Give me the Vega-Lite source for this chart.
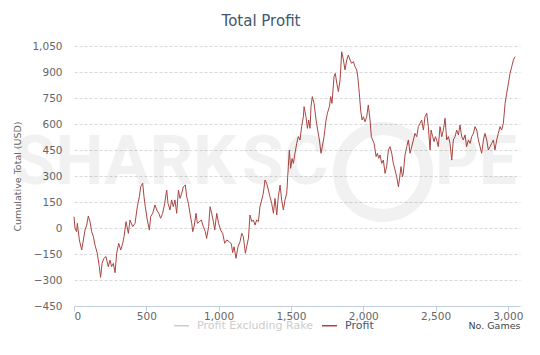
{
  "$schema": "https://vega.github.io/schema/vega-lite/v6.json",
  "width": 446,
  "height": 260,
  "autosize": {"type": "none"},
  "padding": {"left": 74, "top": 46, "right": 20, "bottom": 49},
  "background": "white",
  "title": {"text": "Total Profit", "font": "DejaVu Sans", "fontSize": 15, "fontWeight": "normal", "color": "#3E576F", "dx": -36, "offset": -3, "baseline": "bottom"},
  "config": {"view": {"stroke": null}},
  "layer": [
    {
      "data": {"values": [
        {"game":0,"profit":65},{"game":7,"profit":-2},{"game":18,"profit":-21},{"game":23,"profit":27},{"game":37,"profit":-69},{"game":53,"profit":-127},{"game":65,"profit":-69},{"game":76,"profit":-12},{"game":88,"profit":17},{"game":99,"profit":69},{"game":111,"profit":36},{"game":122,"profit":-21},{"game":134,"profit":-50},{"game":145,"profit":-98},{"game":161,"profit":-146},{"game":175,"profit":-223},{"game":184,"profit":-285},{"game":194,"profit":-204},{"game":207,"profit":-175},{"game":221,"profit":-165},{"game":237,"profit":-223},{"game":249,"profit":-185},{"game":260,"profit":-223},{"game":272,"profit":-204},{"game":284,"profit":-258},{"game":295,"profit":-146},{"game":309,"profit":-88},{"game":323,"profit":-127},{"game":337,"profit":-88},{"game":346,"profit":-50},{"game":360,"profit":37},{"game":376,"profit":-31},{"game":387,"profit":46},{"game":406,"profit":8},{"game":422,"profit":27},{"game":438,"profit":123},{"game":452,"profit":181},{"game":461,"profit":238},{"game":475,"profit":258},{"game":484,"profit":181},{"game":493,"profit":123},{"game":507,"profit":46},{"game":521,"profit":-12},{"game":530,"profit":65},{"game":544,"profit":85},{"game":560,"profit":133},{"game":572,"profit":104},{"game":586,"profit":85},{"game":599,"profit":56},{"game":613,"profit":85},{"game":627,"profit":142},{"game":641,"profit":219},{"game":650,"profit":142},{"game":664,"profit":104},{"game":675,"profit":162},{"game":687,"profit":123},{"game":698,"profit":162},{"game":710,"profit":85},{"game":722,"profit":219},{"game":733,"profit":171},{"game":745,"profit":200},{"game":756,"profit":238},{"game":770,"profit":248},{"game":779,"profit":181},{"game":791,"profit":142},{"game":802,"profit":85},{"game":814,"profit":27},{"game":821,"profit":-21},{"game":830,"profit":8},{"game":844,"profit":85},{"game":853,"profit":27},{"game":867,"profit":37},{"game":881,"profit":46},{"game":894,"profit":8},{"game":908,"profit":-21},{"game":917,"profit":-60},{"game":931,"profit":8},{"game":941,"profit":123},{"game":952,"profit":85},{"game":964,"profit":37},{"game":973,"profit":-12},{"game":987,"profit":85},{"game":1000,"profit":27},{"game":1014,"profit":-12},{"game":1028,"profit":-31},{"game":1042,"profit":-88},{"game":1056,"profit":-69},{"game":1074,"profit":-79},{"game":1088,"profit":-92},{"game":1097,"profit":-142},{"game":1107,"profit":-108},{"game":1120,"profit":-175},{"game":1134,"profit":-108},{"game":1148,"profit":-79},{"game":1160,"profit":-31},{"game":1171,"profit":-50},{"game":1185,"profit":-146},{"game":1194,"profit":-108},{"game":1206,"profit":-60},{"game":1217,"profit":75},{"game":1229,"profit":37},{"game":1240,"profit":46},{"game":1252,"profit":17},{"game":1263,"profit":46},{"game":1275,"profit":37},{"game":1286,"profit":123},{"game":1298,"profit":162},{"game":1309,"profit":200},{"game":1321,"profit":277},{"game":1332,"profit":258},{"game":1344,"profit":219},{"game":1355,"profit":181},{"game":1367,"profit":142},{"game":1379,"profit":85},{"game":1390,"profit":171},{"game":1402,"profit":75},{"game":1413,"profit":181},{"game":1425,"profit":248},{"game":1436,"profit":162},{"game":1448,"profit":104},{"game":1459,"profit":162},{"game":1471,"profit":200},{"game":1482,"profit":354},{"game":1489,"profit":450},{"game":1498,"profit":344},
        {"game":1508,"profit":400},{"game":1517,"profit":373},{"game":1528,"profit":431},{"game":1540,"profit":488},{"game":1551,"profit":527},{"game":1563,"profit":508},{"game":1574,"profit":585},{"game":1586,"profit":642},{"game":1591,"profit":700},{"game":1604,"profit":642},{"game":1614,"profit":575},{"game":1623,"profit":623},{"game":1632,"profit":575},{"game":1639,"profit":700},{"game":1648,"profit":758},{"game":1660,"profit":719},{"game":1674,"profit":623},{"game":1685,"profit":565},{"game":1697,"profit":508},{"game":1708,"profit":431},{"game":1717,"profit":469},{"game":1729,"profit":527},{"game":1743,"profit":623},{"game":1752,"profit":662},{"game":1766,"profit":700},{"game":1775,"profit":758},{"game":1784,"profit":719},{"game":1798,"profit":873},{"game":1807,"profit":892},{"game":1817,"profit":835},{"game":1828,"profit":787},{"game":1840,"profit":854},{"game":1851,"profit":1017},{"game":1863,"profit":969},{"game":1874,"profit":912},{"game":1886,"profit":969},{"game":1897,"profit":998},{"game":1909,"profit":969},{"game":1920,"profit":950},{"game":1932,"profit":960},{"game":1943,"profit":931},{"game":1955,"profit":912},{"game":1962,"profit":873},{"game":1973,"profit":777},{"game":1982,"profit":681},{"game":1992,"profit":623},{"game":2001,"profit":642},{"game":2012,"profit":613},{"game":2024,"profit":642},{"game":2035,"profit":710},{"game":2047,"profit":623},{"game":2056,"profit":527},{"game":2065,"profit":508},{"game":2075,"profit":488},{"game":2089,"profit":412},{"game":2098,"profit":431},{"game":2107,"profit":402},{"game":2116,"profit":421},{"game":2128,"profit":373},{"game":2139,"profit":392},{"game":2151,"profit":315},{"game":2162,"profit":354},{"game":2174,"profit":450},{"game":2185,"profit":469},{"game":2197,"profit":431},{"game":2208,"profit":373},{"game":2220,"profit":335},{"game":2231,"profit":296},{"game":2243,"profit":238},{"game":2250,"profit":277},{"game":2261,"profit":354},{"game":2271,"profit":296},{"game":2277,"profit":315},{"game":2289,"profit":421},{"game":2301,"profit":469},{"game":2312,"profit":508},{"game":2324,"profit":431},{"game":2335,"profit":469},{"game":2347,"profit":508},{"game":2358,"profit":546},{"game":2370,"profit":527},{"game":2381,"profit":585},{"game":2393,"profit":604},{"game":2404,"profit":623},{"game":2416,"profit":565},{"game":2427,"profit":642},{"game":2439,"profit":662},{"game":2450,"profit":585},{"game":2462,"profit":450},{"game":2469,"profit":565},{"game":2480,"profit":527},{"game":2490,"profit":498},{"game":2499,"profit":527},{"game":2508,"profit":508},{"game":2519,"profit":469},{"game":2531,"profit":585},{"game":2543,"profit":527},{"game":2554,"profit":565},{"game":2566,"profit":633},{"game":2577,"profit":508},{"game":2589,"profit":527},{"game":2600,"profit":488},{"game":2612,"profit":392},{"game":2623,"profit":508},{"game":2635,"profit":527},{"game":2646,"profit":565},{"game":2658,"profit":537},{"game":2669,"profit":594},{"game":2681,"profit":527},{"game":2692,"profit":508},{"game":2704,"profit":537},{"game":2715,"profit":469},{"game":2727,"profit":508},{"game":2739,"profit":488},{"game":2750,"profit":527},{"game":2762,"profit":546},{"game":2773,"profit":585},{"game":2785,"profit":565},{"game":2796,"profit":508},{"game":2808,"profit":469},{"game":2819,"profit":431},{"game":2831,"profit":508},{"game":2842,"profit":546},{"game":2854,"profit":508},{"game":2865,"profit":450},{"game":2877,"profit":469},{"game":2888,"profit":488},{"game":2900,"profit":508},{"game":2911,"profit":450},{"game":2923,"profit":508},{"game":2934,"profit":546},{"game":2946,"profit":585},{"game":2957,"profit":565},{"game":2969,"profit":604},{"game":2981,"profit":719},{"game":2992,"profit":777},{"game":3004,"profit":835},{"game":3015,"profit":892},{"game":3027,"profit":931},{"game":3038,"profit":969},{"game":3050,"profit":988}
      ]},
      "mark": {"type": "line", "strokeWidth": 1, "interpolate": "linear"},
      "encoding": {
        "x": {
          "field": "game", "type": "quantitative",
          "scale": {"domain": [0, 3084], "nice": false, "zero": false},
          "axis": {
            "values": [0, 500, 1000, 1500, 2000, 2500, 3000], "tickCount": 7, "format": ",d",
            "grid": false, "domain": true, "domainColor": "#C0D0E0", "ticks": true, "tickColor": "#C0D0E0", "tickSize": 5,
            "labelFont": "DejaVu Sans", "labelFontSize": 10.5, "labelColor": "#666666", "labelPadding": 0, "labelOverlap": false,
            "title": "No. Games", "titleFont": "DejaVu Sans", "titleFontSize": 9.5, "titleFontWeight": "normal", "titleColor": "#444444",
            "titleAnchor": "end", "titleBaseline": "middle", "titleY": 19
          }
        },
        "y": {
          "field": "profit", "type": "quantitative",
          "scale": {"domain": [-450, 1050], "nice": false, "zero": false},
          "axis": {
            "values": [-450, -300, -150, 0, 150, 300, 450, 600, 750, 900, 1050], "tickCount": 11, "format": ",d",
            "grid": true, "gridColor": "#D8D8D8", "gridDash": [3, 2], "gridWidth": 1,
            "domain": false, "ticks": false, "labelOverlap": false, "labelBound": false, "labelFlush": false,
            "labelFont": "DejaVu Sans", "labelFontSize": 10.5, "labelColor": "#666666", "labelPadding": 12,
            "title": "Cumulative Total (USD)", "titleFont": "DejaVu Sans", "titleFontSize": 9.5, "titleFontWeight": "normal", "titleColor": "#666666", "titlePadding": 9
          }
        },
        "color": {
          "datum": "Profit",
          "scale": {"domain": ["Profit Excluding Rake", "Profit"], "range": ["#CCCCCC", "#AA4643"]},
          "legend": {
            "orient": "none", "legendX": 99, "legendY": 271, "direction": "horizontal", "title": null,
            "symbolType": "stroke", "symbolSize": 225, "symbolStrokeWidth": 1.5,
            "labelFont": "DejaVu Sans", "labelFontSize": 11, "labelOffset": 7, "columnPadding": 6,
            "encode": {"labels": {"update": {"fill": {"signal": "datum.label === 'Profit' ? '#3E576F' : '#CCCCCC'"}}}}
          }
        }
      }
    },
    {
      "data": {"values": [{}]},
      "mark": {"type": "text", "text": "SHARK", "font": "Roboto", "fontWeight": "bold", "fontSize": 68, "color": "#000", "opacity": 0.05, "baseline": "middle", "align": "center", "clip": false},
      "encoding": {"x": {"datum": 353, "type": "quantitative"}, "y": {"datum": 369, "type": "quantitative"}}
    },
    {
      "data": {"values": [{}]},
      "mark": {"type": "text", "text": "SC", "font": "Roboto", "fontWeight": "bold", "fontSize": 68, "color": "#000", "opacity": 0.05, "baseline": "middle", "align": "center", "clip": false},
      "encoding": {"x": {"datum": 1459, "type": "quantitative"}, "y": {"datum": 369, "type": "quantitative"}}
    },
    {
      "data": {"values": [{}]},
      "mark": {"type": "text", "text": "PE", "font": "Roboto", "fontWeight": "bold", "fontSize": 68, "color": "#000", "opacity": 0.05, "baseline": "middle", "align": "center", "clip": false},
      "encoding": {"x": {"datum": 2780, "type": "quantitative"}, "y": {"datum": 369, "type": "quantitative"}}
    },
    {
      "data": {"values": [{}]},
      "mark": {"type": "point", "shape": "circle", "filled": false, "size": 7569, "strokeWidth": 13, "color": "#000", "opacity": 0.05},
      "encoding": {"x": {"datum": 2137, "type": "quantitative"}, "y": {"datum": 323, "type": "quantitative"}}
    }
  ]
}
